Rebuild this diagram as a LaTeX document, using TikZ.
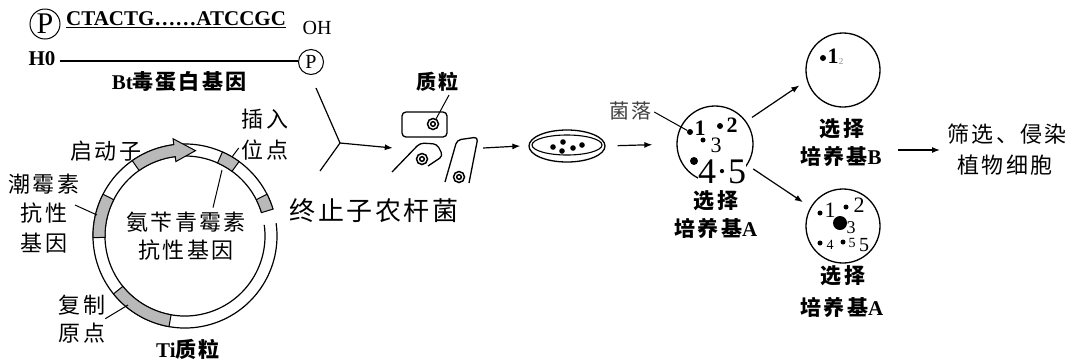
\documentclass[tikz,border=0pt]{standalone}
\usepackage{fontspec}
\setmainfont{Liberation Serif}
\newfontfamily\cjk[LetterSpace=10]{Noto Sans CJK SC}
\usetikzlibrary{arrows.meta,shapes.geometric}

\tikzset{
  ln/.style={line width=1.2pt},
  arr/.style={line width=1.2pt,-{Latex[length=8pt,width=6pt]}},
  zh/.style={font=\cjk\fontsize{22}{26}\selectfont,inner sep=0pt},
  zhb/.style={font=\bfseries\cjk\fontsize{21}{25}\selectfont,inner sep=0pt},
  plate/.style={circle,draw,line width=1.3pt,inner sep=0pt},
  col/.style={circle,fill,inner sep=0pt,minimum size=6pt},
  numb/.style={font=\bfseries\fontsize{22}{22}\selectfont,inner sep=0pt,text height=14pt,text depth=0pt},
  numr/.style={font=\fontsize{22}{22}\selectfont,inner sep=0pt,text height=14pt,text depth=0pt},
  seg/.style={fill=gray!55,draw,line width=1pt},
  cellbody/.style={line width=1.3pt,rounded corners=4pt},
}

\begin{document}
\begin{tikzpicture}[x=1pt,y=-1pt]
\useasboundingbox[fill=white] (0,0) rectangle (1070,360);

% ---- Bt toxin gene (double strand) ----
\node[circle,draw,line width=1pt,minimum size=30pt,inner sep=0pt,
      font=\fontsize{30}{30}\selectfont] (p1) at (45,24) {P};
\node[anchor=west,inner sep=0pt,font=\bfseries\fontsize{21}{21}\selectfont]
      (seq) at (66,20) {\underline{CTACTG……ATCCGC}};
\node[inner sep=0pt,font=\fontsize{20}{20}\selectfont] (oh) at (317,28) {OH};
\node[inner sep=0pt,font=\bfseries\fontsize{21}{21}\selectfont] (h0) at (42,59) {H0};
\node[circle,draw,line width=1pt,minimum size=25pt,inner sep=0pt,
      font=\fontsize{20}{20}\selectfont] (p2) at (311,62) {P};
\draw[line width=1.6pt] (h0.east) ++(4,2) coordinate (s0) -- (p2.west |- s0);
\node[inner sep=0pt,font=\bfseries\fontsize{21}{21}\selectfont] (bt) at (179,82)
      {Bt{\cjk 毒蛋白基因}};

% ---- joining of gene and plasmid ----
\coordinate (ytop) at (316,88);
\coordinate (yj) at (340,143);
\coordinate (ybot) at (320,171);
\draw[ln] (ytop) -- (yj) -- (ybot);

% ---- Ti plasmid ----
\begin{scope}[shift={(185,236)},y=1pt]
  \draw[ln] (17:80) arc[start angle=17,end angle=368,radius=80];
  \draw[ln] (17:92) arc[start angle=17,end angle=368,radius=92];
  % insertion site
  \filldraw[seg] (54:80) arc[start angle=54,end angle=66,radius=80]
     -- (66:92) arc[start angle=66,end angle=54,radius=92] -- cycle;
  % terminator
  \filldraw[seg] (17:80) arc[start angle=17,end angle=27,radius=80]
     -- (27:92) arc[start angle=27,end angle=17,radius=92] -- cycle;
  % hygromycin resistance gene
  \filldraw[seg] (153:80) arc[start angle=153,end angle=181,radius=80]
     -- (181:92) arc[start angle=181,end angle=153,radius=92] -- cycle;
  % origin of replication
  \filldraw[seg] (219:80) arc[start angle=219,end angle=260,radius=80]
     -- (260:92) arc[start angle=260,end angle=219,radius=92] -- cycle;
  % promoter arrow
  \filldraw[seg] (125:80) arc[start angle=125,end angle=97,radius=80]
     -- (97:75) -- (83:86) -- (97:98) -- (97:92)
     arc[start angle=97,end angle=125,radius=92] -- cycle;
\end{scope}

\node[zh] (prom) at (106,151) {启动子};
\node[zh] (ins1) at (265,119) {插入};
\node[zh] (ins2) at (265,150) {位点};
\coordinate (insblk) at (232,157);
\draw[line width=1pt] (ins2.west) ++(-3,-2) -- (insblk);
\node[zh] (hyg1) at (44,184) {潮霉素};
\node[zh] (hyg2) at (44,213) {抗性};
\node[zh] (hyg3) at (44,243) {基因};
\coordinate (hygseg) at (97,215);
\draw[line width=1pt] (75,205) -- (hygseg);
\node[zh] (amp1) at (186,222) {氨苄青霉素};
\node[zh] (amp2) at (186,250) {抗性基因};
\coordinate (ampblk) at (222,170);
\draw[line width=1pt] (amp1.north -| 213,0) ++(0,-4) -- (ampblk);
\node[zh] (ori1) at (82,305) {复制};
\node[zh] (ori2) at (82,333) {原点};
\coordinate (oriseg) at (128,305);
\draw[line width=1pt] (ori2.north east) ++(0,-4) -- (oriseg);
\node[inner sep=0pt,font=\bfseries\fontsize{21}{21}\selectfont] (ti) at (188,349)
      {Ti{\cjk 质粒}};
\node[inner sep=0pt,font=\cjk\fontsize{26}{26}\selectfont] (term) at (374,211)
      {终止子农杆菌};

% ---- Agrobacterium cells ----
\node[inner sep=0pt,minimum width=90pt,minimum height=75pt] (cells) at (438,148) {};
\draw[cellbody] (402,112) rectangle (447,137);
\draw[line width=1.5pt] (433,124) circle (5.5) (433,124) circle (2.3);
\draw[cellbody] (392,172) -- (420,143) -- (437,144) -- (443,156) -- (428,166);
\draw[line width=1.5pt] (422,159) circle (5.5) (422,159) circle (2.3);
\draw[cellbody] (445,182) -- (457,140) -- (478,137) -- (469,183);
\draw[line width=1.5pt] (459,177) circle (5.5) (459,177) circle (2.3);
\node[inner sep=0pt,font=\bfseries\cjk\fontsize{20}{20}\selectfont] (zl) at (437,82) {质粒};
\draw[line width=1pt] (449,95) -- (436,119);

\draw[arr] (yj) -- (cells.west);

% ---- culture dish ----
\node[ellipse,draw,line width=1.3pt,minimum width=76pt,minimum height=32pt,inner sep=0pt]
      (dish) at (567,146) {};
\draw[line width=1.1pt] (567,145) ellipse (35 and 10);
\foreach \p in {(553,147),(563,142),(562,151),(573,148),(582,145)}
  \fill \p circle (2.8);
\draw[arr] (cells.east) -- ([xshift=-8pt]dish.west);

% ---- selective medium A ----
\node[plate,minimum size=76pt] (pa) at (715,144) {};
\draw[arr,shorten <=12pt,shorten >=24pt] (dish.east) -- (pa.west);
\node[inner sep=0pt,text=black!75,font=\cjk\fontsize{20}{20}\selectfont] (jl) at (630,111) {菌落};
\node[col] (a1) at (690,132) {};
\draw[line width=1pt] (jl.east) ++(3,1) -- (a1);
\node[numb] at (700,128) {1};
\node[col] (a2) at (720,126) {};
\node[numb] at (732,125) {2};
\node[col,minimum size=5pt] (a3) at (703,140) {};
\node[numr] at (716,145) {3};
\node[col,minimum size=8pt] (a4) at (694,161) {};
\node[inner sep=0pt,fill=white,anchor=base,text height=25pt,text depth=1pt,
      font=\fontsize{36}{36}\selectfont] at (722,183) {4·5};
\node[zhb] (sa1) at (716,201) {选择};
\node[zhb] (sa2) at (716,228) {培养基{\rmfamily A}};

% ---- selective medium B ----
\node[plate,minimum size=74pt] (pb) at (843,70) {};
\draw[arr,shorten <=7pt,shorten >=9pt] (pa.36) -- (pb.196);
\node[col] at (823,58) {};
\node[numb] at (833,56) {1};
\node[inner sep=0pt,text=black!45,font=\fontsize{9}{9}\selectfont] at (841,62) {2};
\node[zhb] (sb1) at (842,129) {选择};
\node[zhb] (sb2) at (841,156) {培养基{\rmfamily B}};
\coordinate (bout) at (898,150);
\coordinate (gin) at (940,150);
\draw[arr] (bout) -- (gin);
\node[zh] (g1) at (1007,134) {筛选、侵染};
\node[zh] (g2) at (1005,165) {植物细胞};

% ---- selective medium A (replica) ----
\node[plate,minimum size=74pt] (pc) at (843,226) {};
\draw[arr,shorten <=7pt,shorten >=9pt] (pa.-33) -- (pc.150);
\node[col,minimum size=5pt] at (820,213) {};
\node[numr] at (830,210) {1};
\node[col,minimum size=5pt] at (846,207) {};
\node[numr] at (859,205) {2};
\fill (840,223) circle (7);
\node[inner sep=0pt,text height=12pt,text depth=0pt,font=\fontsize{18}{18}\selectfont] at (851,227) {3};
\node[col,minimum size=5pt] at (820,243) {};
\node[inner sep=0pt,text height=9pt,text depth=0pt,font=\fontsize{14}{14}\selectfont] at (830,245) {4};
\node[col,minimum size=5pt] at (843,242) {};
\node[inner sep=0pt,text height=9pt,text depth=0pt,font=\fontsize{14}{14}\selectfont] at (852,243) {5};
\node[inner sep=0pt,text height=13pt,text depth=0pt,font=\fontsize{20}{20}\selectfont] at (864,245) {5};
\node[zhb] (sc1) at (843,276) {选择};
\node[zhb] (sc2) at (842,307) {培养基{\rmfamily A}};
\end{tikzpicture}
\end{document}
